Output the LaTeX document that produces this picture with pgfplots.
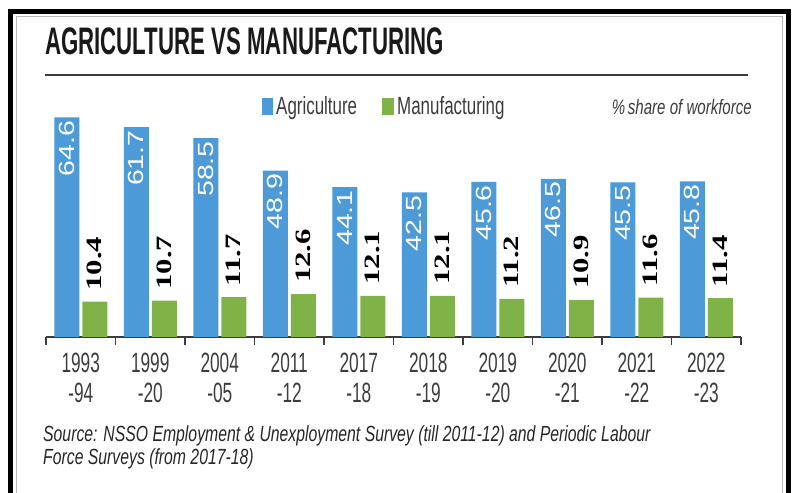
\documentclass[border=0pt]{standalone}
\usepackage{pgfplots}
\pgfplotsset{compat=1.18}
\usepackage{fontspec}
\setmainfont{Liberation Sans}
\newfontfamily\numserif{Liberation Serif}

\definecolor{agri}{HTML}{4C9AD8}
\definecolor{manu}{HTML}{7FB348}
\definecolor{ink}{HTML}{3C3C3C}

\begin{document}
\begin{tikzpicture}[x=1bp,y=1bp]
  \useasboundingbox (0,0) rectangle (793,493);

  % frame
  \draw[line width=5bp] (10.5,-20) -- (10.5,481.5) -- (788,481.5) -- (788,-20);
  \draw[gray!55, line width=0.8bp] (16.5,-20) -- (16.5,476.5) -- (782.5,476.5) -- (782.5,-20);

  % title and rule
  \node[anchor=base west, inner sep=0pt, text=black!90] at (45,438)
    {\fontsize{38.5}{40}\selectfont\bfseries\scalebox{0.58}[1]{AGRICULTURE VS MANUFACTURING}};
  \draw[ink, line width=1.5bp] (45,418) -- (748,418);

  % legend
  \fill[agri] (262,378) rectangle (273,395);
  \node[anchor=base west, inner sep=0pt, text=ink] at (276,378)
    {\fontsize{25}{25}\selectfont\scalebox{0.68}[1]{Agriculture}};
  \fill[manu] (382,378) rectangle (394,395);
  \node[anchor=base west, inner sep=0pt, text=ink] at (397,378)
    {\fontsize{25}{25}\selectfont\scalebox{0.68}[1]{Manufacturing}};
  \node[anchor=base east, inner sep=0pt, text=ink] at (752,378)
    {\fontsize{21}{21}\selectfont\itshape\scalebox{0.72}[1]{\%\,share of workforce}};

  \begin{axis}[
      at={(46bp,156bp)}, anchor=south west,
      scale only axis, width=695bp, height=238bp,
      xmin=-0.5, xmax=9.5, ymin=0, ymax=70,
      axis x line*=bottom, axis y line=none,
      ybar=3bp, bar width=25bp,
      xtick={0,...,9},
      xticklabels={{1993\\-94},{1999\\-20},{2004\\-05},{2011\\-12},{2017\\-18},
                   {2018\\-19},{2019\\-20},{2020\\-21},{2021\\-22},{2022\\-23}},
      minor xtick={-0.5,0.5,...,9.5},
      major tick length=0pt, minor tick length=8bp,
      tick align=outside,
      every tick/.style={ink, line width=1.2bp},
      x axis line style={ink, line width=1.5bp},
      xticklabel style={align=center, text=ink, inner sep=0pt, yshift=-16bp,
                        font=\fontsize{28}{30}\selectfont, xscale=0.62},
      /pgf/number format/assume math mode=true,
      /pgf/number format/.cd, fixed, fixed zerofill, precision=1,
      /pgfplots/.cd,
      clip=false,
    ]

    \addplot[fill=agri, draw=none,
      nodes near coords={\scalebox{1.3}[1]{\pgfmathprintnumber{\pgfplotspointmeta}}},
      every node near coord/.append style={rotate=90, anchor=east, inner sep=3bp,
        text=white, font=\fontsize{22}{22}\selectfont}]
      coordinates {
        (0,64.6) (1,61.7) (2,58.5) (3,48.9) (4,44.1)
        (5,42.5) (6,45.6) (7,46.5) (8,45.5) (9,45.8)
      };

    \addplot[fill=manu, draw=none,
      nodes near coords={\scalebox{1.4}[1]{\pgfmathprintnumber{\pgfplotspointmeta}}},
      every node near coord/.append style={rotate=90, anchor=west, inner xsep=11bp,
        inner ysep=0pt, text=black, font=\numserif\bfseries\fontsize{22}{22}\selectfont}]
      coordinates {
        (0,10.4) (1,10.7) (2,11.7) (3,12.6) (4,12.1)
        (5,12.1) (6,11.2) (7,10.9) (8,11.6) (9,11.4)
      };

  \end{axis}

  % source note
  \node[anchor=base west, inner sep=0pt, text=black!85] at (43,51)
    {\fontsize{22}{22}\selectfont\itshape\scalebox{0.72}[1]{Source: NSSO Employment \& Unexployment Survey (till 2011-12) and Periodic Labour}};
  \node[anchor=base west, inner sep=0pt, text=black!85] at (43,28)
    {\fontsize{22}{22}\selectfont\itshape\scalebox{0.72}[1]{Force Surveys (from 2017-18)}};
\end{tikzpicture}
\end{document}
